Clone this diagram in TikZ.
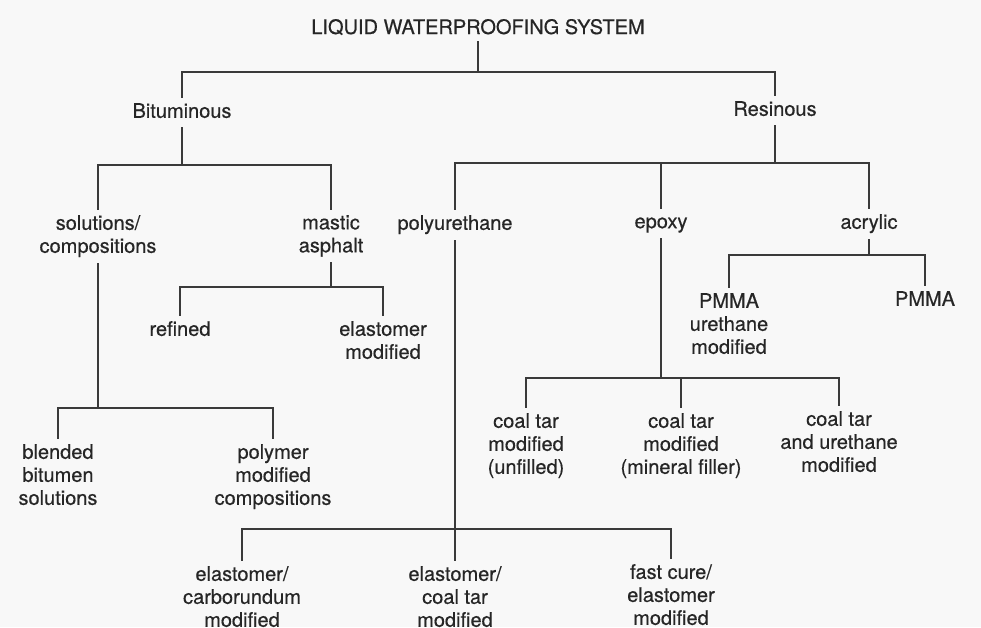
\documentclass[tikz,border=0pt]{standalone}
\usepackage{fontspec}
\setmainfont{TeX Gyre Heros}[FakeBold=0.5]
\definecolor{ink}{HTML}{262626}
\definecolor{lin}{HTML}{3A3A3A}
\definecolor{paper}{HTML}{F8F8F8}
\newcommand\zs{\rule[-4pt]{0pt}{18pt}}
\begin{document}
\begin{tikzpicture}[x=1pt,y=-1pt,
  lbl/.style={anchor=north, align=center, inner sep=6pt, text=ink,
              font=\fontsize{20}{23}\selectfont},
  con/.style={draw=lin, line width=1.4pt, line cap=rect}]
\fill[paper] (0,0) rectangle (981,627);
\useasboundingbox (0,0) rectangle (981,627);

% nodes
\node[lbl, anchor=base] (root) at (478,34) {LIQUID WATERPROOFING SYSTEM};
\node[lbl] (bit) at (182,97) {\zs Bituminous};
\node[lbl] (res) at (775,95) {\zs Resinous};
\node[lbl] (sol) at (98,209) {\zs solutions/\\\zs compositions};
\node[lbl] (mas) at (331,209) {\zs mastic\\\zs asphalt};
\node[lbl] (poly) at (455,209) {\zs polyurethane};
\node[lbl] (epo) at (661,208) {\zs epoxy};
\node[lbl] (acr) at (869,208) {\zs acrylic};
\node[lbl] (ref) at (180,315) {\zs refined};
\node[lbl] (elm) at (383,315) {\zs elastomer\\\zs modified};
\node[lbl] (ble) at (58,438) {\zs blended\\\zs bitumen\\\zs solutions};
\node[lbl] (pol) at (273,438) {\zs polymer\\\zs modified\\\zs compositions};
\node[lbl] (car) at (242,560) {\zs elastomer/\\\zs carborundum\\\zs modified};
\node[lbl] (ect) at (455,560) {\zs elastomer/\\\zs coal tar\\\zs modified};
\node[lbl] (fcu) at (671,558) {\zs fast cure/\\\zs elastomer\\\zs modified};
\node[lbl] (pmu) at (729,287) {\zs PMMA\\\zs urethane\\\zs modified};
\node[lbl] (pmm) at (925,285) {\zs PMMA};
\node[lbl] (ct1) at (526,407) {\zs coal tar\\\zs modified\\\zs (unfilled)};
\node[lbl] (ct2) at (681,407) {\zs coal tar\\\zs modified\\\zs (mineral filler)};
\node[lbl] (ct3) at (839,405) {\zs coal tar\\\zs and urethane\\\zs modified};

% junction levels
\coordinate (j0) at (0,72);
\coordinate (jb) at (0,165);
\coordinate (jr) at (0,163);
\coordinate (js) at (0,408);
\coordinate (jm) at (0,287);
\coordinate (ja) at (0,255);
\coordinate (je) at (0,378);
\coordinate (jp) at (0,529);

% connectors
\draw[con] (root.south) -- (root.south |- j0);
\draw[con] (bit.north) -- (bit.north |- j0) -- (res.north |- j0) -- (res.north);

\draw[con] (bit.south) -- (bit.south |- jb);
\draw[con] (sol.north) -- (sol.north |- jb) -- (mas.north |- jb) -- (mas.north);

\draw[con] (res.south) -- (res.south |- jr);
\draw[con] (poly.north) -- (poly.north |- jr) -- (acr.north |- jr) -- (acr.north);
\draw[con] (epo.north) -- (epo.north |- jr);

\draw[con] (sol.south) -- (sol.south |- js);
\draw[con] (ble.north) -- (ble.north |- js) -- (pol.north |- js) -- (pol.north);

\draw[con] (mas.south) -- (mas.south |- jm);
\draw[con] (ref.north) -- (ref.north |- jm) -- (elm.north |- jm) -- (elm.north);

\draw[con] (acr.south) -- (acr.south |- ja);
\draw[con] (pmu.north) -- (pmu.north |- ja) -- (pmm.north |- ja) -- (pmm.north);

\draw[con] (epo.south) -- (epo.south |- je);
\draw[con] (ct1.north) -- (ct1.north |- je) -- (ct3.north |- je) -- (ct3.north);
\draw[con] (ct2.north) -- (ct2.north |- je);

\draw[con] (poly.south) -- (ect.north);
\draw[con] (car.north) -- (car.north |- jp) -- (fcu.north |- jp) -- (fcu.north);
\end{tikzpicture}
\end{document}
